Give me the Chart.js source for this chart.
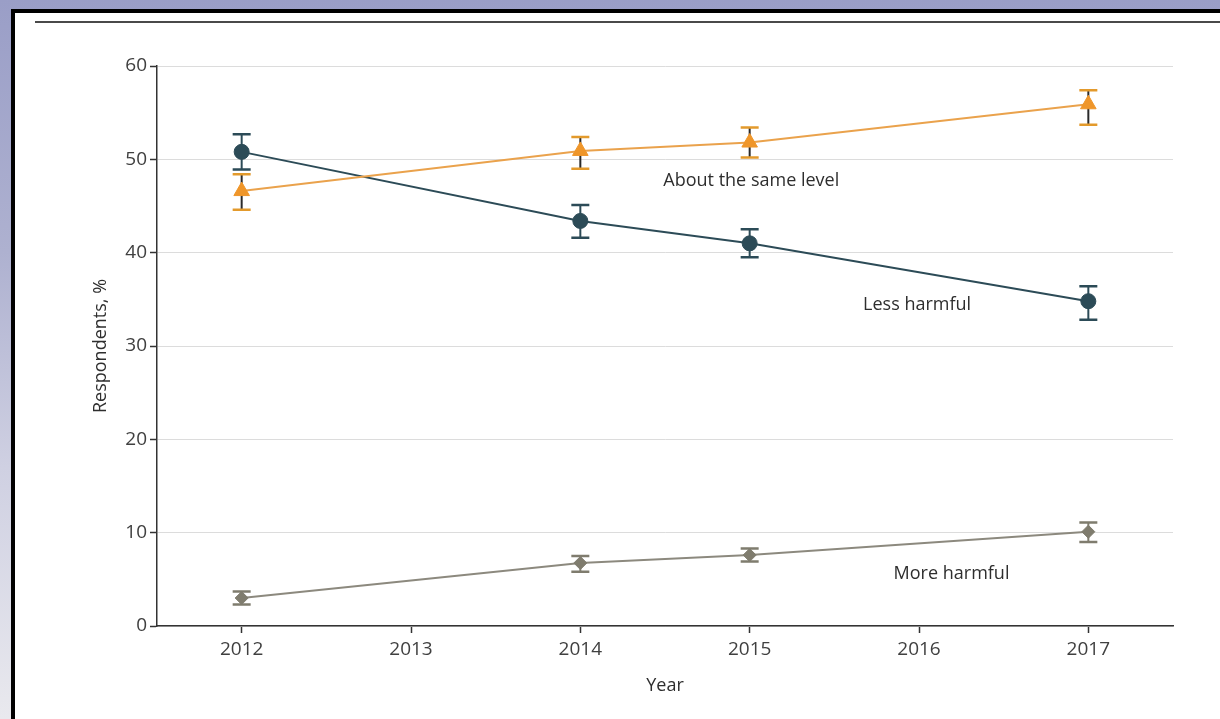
<!DOCTYPE html>
<html>
<head>
<meta charset="utf-8">
<script src="https://cdn.jsdelivr.net/npm/chart.js@4"></script>
<style>
  html, body { margin: 0; padding: 0; }
  body {
    width: 1220px; height: 719px; overflow: hidden; position: relative;
    background: linear-gradient(to bottom, #9a9ec7 0%, #aeb1d0 35%, #cfd0e2 65%, #e9e9ee 100%);
  }
  #panel {
    position: absolute; left: 11px; top: 9px; width: 1300px; height: 800px;
    background: #ffffff; border-left: 4px solid #000; border-top: 4px solid #000;
  }
  #rule {
    position: absolute; left: 35px; top: 21px; width: 1200px; height: 2px; background: #4a4a4a;
  }
  #wrap { position: absolute; left: 0; top: 0; width: 1220px; height: 719px; }
</style>
</head>
<body>
<div id="panel"></div>
<div id="rule"></div>
<div id="wrap"><canvas id="c" width="1220" height="719"></canvas></div>
<script>
// ---- data ----
const years = [2012, 2014, 2015, 2017];
const xTicks = [2012, 2013, 2014, 2015, 2016, 2017];
const yTicks = [0, 10, 20, 30, 40, 50, 60];

const sameLevel     = [46.6, 50.9, 51.8, 55.9];
const sameLevelLow  = [44.6, 49.0, 50.2, 53.7];
const sameLevelHigh = [48.4, 52.4, 53.4, 57.4];

const lessHarmful     = [50.8, 43.4, 41.0, 34.8];
const lessHarmfulLow  = [48.9, 41.6, 39.5, 32.8];
const lessHarmfulHigh = [52.7, 45.1, 42.5, 36.4];

const moreHarmful     = [3.0, 6.75, 7.6, 10.1];
const moreHarmfulLow  = [2.3, 5.8, 6.9, 9.0];
const moreHarmfulHigh = [3.7, 7.5, 8.3, 11.1];

const seriesNames = ['About the same level', 'Less harmful', 'More harmful'];
// label anchors in data space [year, value]
const labelAnchors = [[2014.49, 47.7], [2015.67, 34.4], [2015.85, 5.6]];

const FONT = "'Open Sans', 'DejaVu Sans', sans-serif";

function pts(vals) { return years.map((y, i) => ({ x: y, y: vals[i] })); }

const errorSets = [
  { low: sameLevelLow, high: sameLevelHigh, cap: '#e39a2c', stem: '#2a2a2a' },
  { low: lessHarmfulLow, high: lessHarmfulHigh, cap: '#2c4b57', stem: '#2c4b57' },
  { low: moreHarmfulLow, high: moreHarmfulHigh, cap: '#7f7c6e', stem: '#7f7c6e' }
];

const errorBarPlugin = {
  id: 'errorBars',
  beforeDatasetsDraw(chart) {
    const ctx = chart.ctx;
    const xs = chart.scales.x, ys = chart.scales.y;
    ctx.save();
    errorSets.forEach(es => {
      years.forEach((yr, i) => {
        const px = xs.getPixelForValue(yr);
        const pl = ys.getPixelForValue(es.low[i]);
        const ph = ys.getPixelForValue(es.high[i]);
        ctx.strokeStyle = es.stem; ctx.lineWidth = 2;
        ctx.beginPath(); ctx.moveTo(px, pl); ctx.lineTo(px, ph); ctx.stroke();
        ctx.strokeStyle = es.cap; ctx.lineWidth = 2.5;
        ctx.beginPath();
        ctx.moveTo(px - 9, pl); ctx.lineTo(px + 9, pl);
        ctx.moveTo(px - 9, ph); ctx.lineTo(px + 9, ph);
        ctx.stroke();
      });
    });
    ctx.restore();
  }
};

const labelPlugin = {
  id: 'seriesLabels',
  afterDatasetsDraw(chart) {
    const ctx = chart.ctx;
    const xs = chart.scales.x, ys = chart.scales.y;
    ctx.save();
    ctx.font = '18px ' + FONT;
    ctx.fillStyle = '#2e2e2e';
    ctx.textAlign = 'left';
    ctx.textBaseline = 'middle';
    seriesNames.forEach((name, i) => {
      ctx.fillText(name, xs.getPixelForValue(labelAnchors[i][0]), ys.getPixelForValue(labelAnchors[i][1]));
    });
    ctx.restore();
  }
};

new Chart(document.getElementById('c'), {
  type: 'line',
  data: {
    datasets: [
      {
        label: seriesNames[0], data: pts(sameLevel),
        borderColor: '#eaa24c', borderWidth: 2,
        pointStyle: 'triangle', pointRadius: 9,
        pointBackgroundColor: '#ef962a', pointBorderColor: '#ef962a', pointBorderWidth: 1
      },
      {
        label: seriesNames[1], data: pts(lessHarmful),
        borderColor: '#2c4b57', borderWidth: 2,
        pointStyle: 'circle', pointRadius: 7.5,
        pointBackgroundColor: '#2c4b57', pointBorderColor: '#2c4b57', pointBorderWidth: 1
      },
      {
        label: seriesNames[2], data: pts(moreHarmful),
        borderColor: '#8c897e', borderWidth: 2,
        pointStyle: 'rectRot', pointRadius: 6.5,
        pointBackgroundColor: '#7f7c6e', pointBorderColor: '#7f7c6e', pointBorderWidth: 1
      }
    ]
  },
  options: {
    responsive: false,
    animation: false,
    layout: { padding: { left: 90, top: 66, right: 47, bottom: 22 } },
    plugins: { legend: { display: false }, tooltip: { enabled: false } },
    scales: {
      x: {
        type: 'linear', min: 2011.5, max: 2017.5,
        afterBuildTicks: s => { s.ticks = xTicks.map(v => ({ value: v })); },
        afterFit: s => { s.height = 71; },
        border: { color: '#333333', width: 1.5 },
        grid: { drawOnChartArea: false, drawTicks: true, tickLength: 7, tickColor: '#333333', tickWidth: 1.5 },
        ticks: { color: '#404040', font: { family: FONT, size: 19 }, padding: 5,
                 callback: v => String(v) },
        title: { display: true, text: 'Year', color: '#2e2e2e',
                 font: { family: FONT, size: 18 }, padding: { top: 0, bottom: 0 } }
      },
      y: {
        min: 0, max: 60,
        afterBuildTicks: s => { s.ticks = yTicks.map(v => ({ value: v })); },
        afterFit: s => { s.width = 67; },
        border: { color: '#333333', width: 1.5 },
        grid: { color: '#dcdcdc', lineWidth: 1, drawTicks: true, tickLength: 7, tickColor: '#333333', tickWidth: 1.5 },
        ticks: { color: '#404040', font: { family: FONT, size: 19 }, padding: 3 },
        title: { display: true, text: 'Respondents, %', color: '#2e2e2e',
                 font: { family: FONT, size: 18 }, padding: { top: 0, bottom: 0 } }
      }
    }
  },
  plugins: [errorBarPlugin, labelPlugin]
});
</script>
</body>
</html>
